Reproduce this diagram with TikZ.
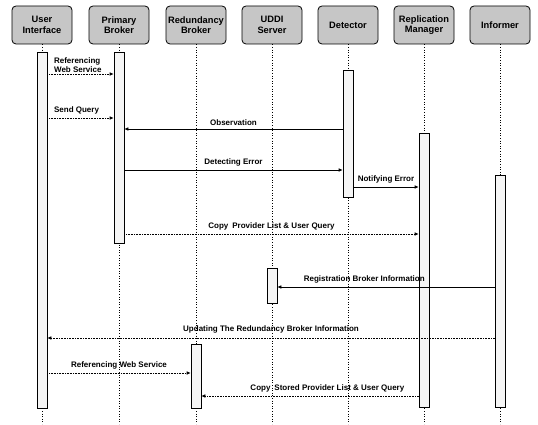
\documentclass[tikz,border=0pt]{standalone}
\usepackage{fontspec}
\setmainfont{Liberation Sans}
\usetikzlibrary{arrows.meta}

\begin{document}
\begin{tikzpicture}[
    x=1pt, y=-1pt,
    actor/.style={rectangle, rounded corners=4pt, draw=black, line width=0.8pt, fill=gray!45, minimum width=60pt, minimum height=38pt, inner sep=1pt, align=center, font=\bfseries\fontsize{9.3}{10.5}\selectfont},
    bar/.style={rectangle, draw=black, line width=0.6pt, fill=gray!8, minimum width=10pt, inner sep=0pt},
    lifeline/.style={dotted, line width=0.6pt},
    msg/.style={-{Latex[length=4pt,width=3.5pt]}, line width=0.6pt},
    reply/.style={msg, densely dotted},
    lbl/.style={font=\bfseries\fontsize{8}{8.5}\selectfont, inner sep=1.5pt, align=left}
]
\useasboundingbox (0,0) rectangle (538,425);
\coordinate (bottom) at (0,424);

% header boxes
\node[actor] (ui)   at (42,25)  {User\\Interface};
\node[actor] (pb)   at (119,25) {Primary\\Broker};
\node[actor] (rb)   at (196,25) {Redundancy\\Broker};
\node[actor] (uddi) at (272,25) {UDDI\\Server};
\node[actor] (det)  at (348,25) {Detector};
\node[actor] (rm)   at (424,25) {Replication\\Manager};
\node[actor] (inf)  at (500,25) {Informer};

\foreach \n in {ui,pb,rb,uddi,det,rm,inf}
    \draw[lifeline] (\n.south) -- (\n.south |- bottom);

% activation bars
\node[bar, minimum height=356pt] (uibar)   at (42,230)    {};
\node[bar, minimum height=191pt] (pbbar)   at (119,147.5) {};
\node[bar, minimum height=64pt]  (rbbar)   at (196,376)   {};
\node[bar, minimum height=35pt]  (uddibar) at (272,285.5) {};
\node[bar, minimum height=127pt] (detbar)  at (348,133.5) {};
\node[bar, minimum height=274pt] (rmbar)   at (424,270)   {};
\node[bar, minimum height=232pt] (infbar)  at (500,291)   {};

% messages
\draw[reply] (uibar.east |- 0,74) -- (pbbar.west |- 0,74)
    node[lbl, pos=0, anchor=south west, xshift=5pt] {Referencing\\Web Service};
\draw[reply] (uibar.east |- 0,118) -- (pbbar.west |- 0,118)
    node[lbl, pos=0, anchor=south west, xshift=5pt, yshift=2pt] {Send Query};
\draw[msg] (detbar.west |- 0,129) -- (pbbar.east |- 0,129)
    node[lbl, midway, above=2pt] {Observation};
\draw[msg] (pbbar.east |- 0,170) -- (detbar.west |- 0,170)
    node[lbl, midway, above=2pt] {Detecting Error};
\draw[msg] (detbar.east |- 0,187) -- (rmbar.west |- 0,187)
    node[lbl, midway, above=2pt] {Notifying Error};
\draw[reply] (pbbar.east |- 0,234) -- (rmbar.west |- 0,234)
    node[lbl, midway, above=2pt] {Copy\enspace Provider List \& User Query};
\draw[msg] (infbar.west |- 0,287) -- (uddibar.east |- 0,287)
    node[lbl, pos=0.6, above=2pt] {Registration Broker Information};
\draw[reply] (infbar.west |- 0,338) -- (uibar.east |- 0,338)
    node[lbl, midway, above=3pt] {Updating The Redundancy Broker Information};
\draw[reply] (uibar.east |- 0,373) -- (rbbar.west |- 0,373)
    node[lbl, midway, above=2pt] {Referencing Web Service};
\draw[reply] (rmbar.west |- 0,396) -- (rbbar.east |- 0,396)
    node[lbl, pos=0.42, above=2pt] {Copy\enspace Stored Provider List \& User Query};
\end{tikzpicture}
\end{document}
